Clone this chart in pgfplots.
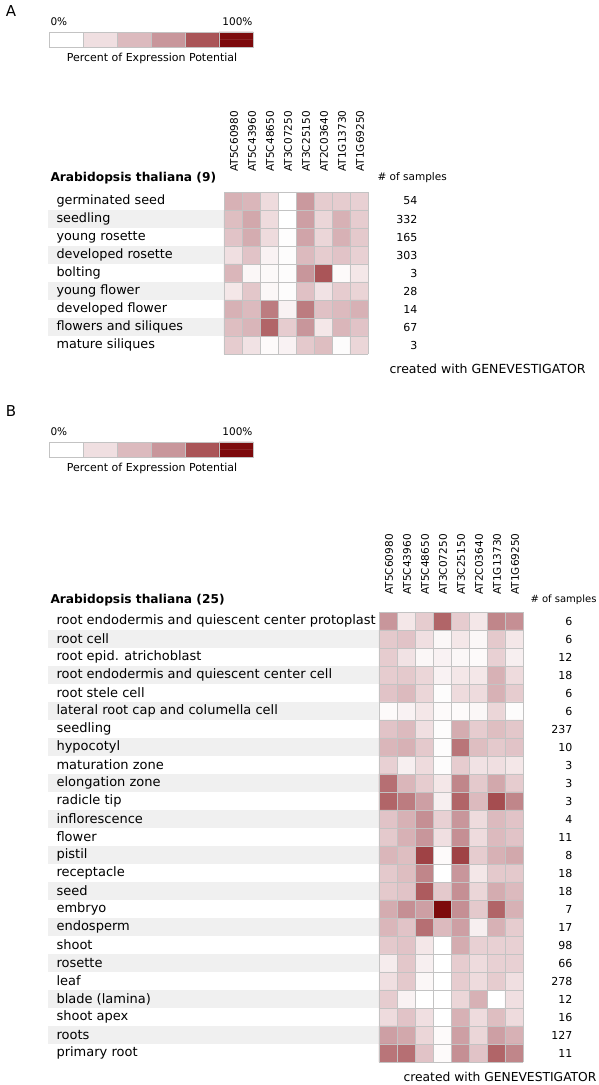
\documentclass[border=0pt]{standalone}
\usepackage{pgfplots}
\pgfplotsset{compat=1.18}
\usepackage{fontspec}
\setmainfont{DejaVu Sans}
\definecolor{stripe}{RGB}{240,240,240}
\definecolor{cellline}{RGB}{195,195,195}
\newcommand{\fs}[1]{\fontsize{#1}{#1}\selectfont}
\begin{document}
\begin{tikzpicture}
\begin{axis}[
  at={(0,0)}, anchor=south west,
  x=1pt, y=1pt, y dir=reverse,
  xmin=0, xmax=598, ymin=0, ymax=1085,
  hide axis, clip=false,
  colormap={gv}{rgb255=(255,255,255) rgb255=(240,223,225) rgb255=(220,186,190) rgb255=(200,150,155) rgb255=(170,85,88) rgb255=(125,10,12)},
  point meta min=0, point meta max=100,
]
\path (axis cs:0,0) rectangle (axis cs:598,1085);
% ---------------- Panel A ----------------
\node[anchor=center, font=\fs{15}] at (axis cs:11,11) {A};
% colour key
\addplot[matrix plot*, mesh/cols=6, point meta=explicit]
 table[row sep=\\, x expr={66+34*\thisrow{c}}, y expr={35.75+7.5*\thisrow{r}}, meta=v]{
 c r v\\ 0 0 0\\ 1 0 20\\ 2 0 40\\ 3 0 60\\ 4 0 80\\ 5 0 100\\
 0 1 0\\ 1 1 20\\ 2 1 40\\ 3 1 60\\ 4 1 80\\ 5 1 100\\
};
\pgfplotsinvokeforeach{1,...,5}{\draw[cellline, line width=0.5pt] (axis cs:{49+34*#1},32) -- (axis cs:{49+34*#1},47);}
\draw[cellline, line width=0.6pt] (axis cs:49,32) rectangle (axis cs:253,47);
\node[anchor=west, font=\fs{10.5}] at (axis cs:47,22) {0\%};
\node[anchor=east, font=\fs{10.5}] at (axis cs:256,22) {100\%};
\node[anchor=center, font=\fs{11}] at (axis cs:152,58) {Percent of Expression Potential};
% stripes
\pgfplotsinvokeforeach{1,3,5,7}{
 \fill[stripe] (axis cs:48,{192+18*#1}) rectangle (axis cs:224,{210+18*#1});
}
% heat map A
\addplot[matrix plot*, mesh/cols=8, point meta=explicit]
 table[row sep=\\, x expr={233+18*\thisrow{c}}, y expr={201+18*\thisrow{r}}, meta=v]{
 c r v\\
 0 0 45\\ 1 0 42\\ 2 0 22\\ 3 0 0\\ 4 0 58\\ 5 0 30\\ 6 0 30\\ 7 0 28\\
 0 1 38\\ 1 1 50\\ 2 1 22\\ 3 1 0\\ 4 1 55\\ 5 1 25\\ 6 1 45\\ 7 1 30\\
 0 2 35\\ 1 2 48\\ 2 2 22\\ 3 2 1\\ 4 2 52\\ 5 2 25\\ 6 2 45\\ 7 2 32\\
 0 3 20\\ 1 3 35\\ 2 3 8\\ 3 3 2\\ 4 3 40\\ 5 3 30\\ 6 3 35\\ 7 3 28\\
 0 4 42\\ 1 4 5\\ 2 4 4\\ 3 4 2\\ 4 4 60\\ 5 4 80\\ 6 4 3\\ 7 4 15\\
 0 5 15\\ 1 5 33\\ 2 5 5\\ 3 5 2\\ 4 5 36\\ 5 5 18\\ 6 5 30\\ 7 5 26\\
 0 6 45\\ 1 6 40\\ 2 6 68\\ 3 6 8\\ 4 6 68\\ 5 6 36\\ 6 6 40\\ 7 6 45\\
 0 7 38\\ 1 7 43\\ 2 7 75\\ 3 7 30\\ 4 7 60\\ 5 7 15\\ 6 7 42\\ 7 7 35\\
 0 8 30\\ 1 8 18\\ 2 8 3\\ 3 8 8\\ 4 8 32\\ 5 8 38\\ 6 8 2\\ 7 8 25\\
};
\pgfplotsinvokeforeach{0,...,8}{\draw[cellline, line width=0.6pt] (axis cs:{224+18*#1},192) -- (axis cs:{224+18*#1},354);}
\pgfplotsinvokeforeach{0,...,9}{\draw[cellline, line width=0.6pt] (axis cs:224,{192+18*#1}) -- (axis cs:368,{192+18*#1});}
\node[rotate=90, anchor=west, font=\fs{10.5}] at (axis cs:234,175) {AT5C60980};
\node[rotate=90, anchor=west, font=\fs{10.5}] at (axis cs:252,175) {AT5C43960};
\node[rotate=90, anchor=west, font=\fs{10.5}] at (axis cs:270,175) {AT5C48650};
\node[rotate=90, anchor=west, font=\fs{10.5}] at (axis cs:288,175) {AT3C07250};
\node[rotate=90, anchor=west, font=\fs{10.5}] at (axis cs:306,175) {AT3C25150};
\node[rotate=90, anchor=west, font=\fs{10.5}] at (axis cs:324,175) {AT2C03640};
\node[rotate=90, anchor=west, font=\fs{10.5}] at (axis cs:342,175) {AT1G13730};
\node[rotate=90, anchor=west, font=\fs{10.5}] at (axis cs:360,175) {AT1G69250};
\node[anchor=west, font=\fs{12.2}\bfseries] at (axis cs:47,178) {Arabidopsis thaliana (9)};
\node[anchor=west, font=\fs{10.5}] at (axis cs:374,178) {\# of samples};
\begin{scope}[every node/.style={anchor=west, font=\fs{12.8}}]
\node at (axis cs:53,201) {germinated seed};
\node at (axis cs:53,219) {seedling};
\node at (axis cs:53,237) {young rosette};
\node at (axis cs:53,255) {developed rosette};
\node at (axis cs:53,273) {bolting};
\node at (axis cs:53,291) {young flower};
\node at (axis cs:53,309) {developed flower};
\node at (axis cs:53,327) {flowers and siliques};
\node at (axis cs:53,345) {mature siliques};
\end{scope}
\begin{scope}[every node/.style={anchor=east, font=\fs{11}}]
\node at (axis cs:421,201) {54};
\node at (axis cs:421,219) {332};
\node at (axis cs:421,237) {165};
\node at (axis cs:421,255) {303};
\node at (axis cs:421,273) {3};
\node at (axis cs:421,291) {28};
\node at (axis cs:421,309) {14};
\node at (axis cs:421,327) {67};
\node at (axis cs:421,345) {3};
\end{scope}
\node[anchor=west, font=\fs{12.5}] at (axis cs:386,369) {created with GENEVESTIGATOR};
% ---------------- Panel B ----------------
\node[anchor=center, font=\fs{15}] at (axis cs:11,411) {B};
\addplot[matrix plot*, mesh/cols=6, point meta=explicit]
 table[row sep=\\, x expr={66+34*\thisrow{c}}, y expr={445.75+7.5*\thisrow{r}}, meta=v]{
 c r v\\ 0 0 0\\ 1 0 20\\ 2 0 40\\ 3 0 60\\ 4 0 80\\ 5 0 100\\
 0 1 0\\ 1 1 20\\ 2 1 40\\ 3 1 60\\ 4 1 80\\ 5 1 100\\
};
\pgfplotsinvokeforeach{1,...,5}{\draw[cellline, line width=0.5pt] (axis cs:{49+34*#1},442) -- (axis cs:{49+34*#1},457);}
\draw[cellline, line width=0.6pt] (axis cs:49,442) rectangle (axis cs:253,457);
\node[anchor=west, font=\fs{10.5}] at (axis cs:47,432) {0\%};
\node[anchor=east, font=\fs{10.5}] at (axis cs:256,432) {100\%};
\node[anchor=center, font=\fs{11}] at (axis cs:152,468) {Percent of Expression Potential};
\pgfplotsinvokeforeach{1,3,5,7,9,11,13,15,17,19,21,23}{
 \fill[stripe] (axis cs:48,{612+18*#1}) rectangle (axis cs:379,{630+18*#1});
}
\addplot[matrix plot*, mesh/cols=8, point meta=explicit]
 table[row sep=\\, x expr={388+18*\thisrow{c}}, y expr={621+18*\thisrow{r}}, meta=v]{
 c r v\\
 0 0 60\\ 1 0 15\\ 2 0 30\\ 3 0 75\\ 4 0 30\\ 5 0 15\\ 6 0 65\\ 7 0 62\\
 0 1 32\\ 1 1 35\\ 2 1 20\\ 3 1 5\\ 4 1 15\\ 5 1 5\\ 6 1 32\\ 7 1 15\\
 0 2 30\\ 1 2 18\\ 2 2 5\\ 3 2 8\\ 4 2 5\\ 5 2 3\\ 6 2 28\\ 7 2 10\\
 0 3 30\\ 1 3 32\\ 2 3 25\\ 3 3 8\\ 4 3 15\\ 5 3 15\\ 6 3 45\\ 7 3 22\\
 0 4 35\\ 1 4 40\\ 2 4 25\\ 3 4 2\\ 4 4 22\\ 5 4 22\\ 6 4 45\\ 7 4 30\\
 0 5 3\\ 1 5 8\\ 2 5 15\\ 3 5 3\\ 4 5 3\\ 5 5 5\\ 6 5 25\\ 7 5 2\\
 0 6 35\\ 1 6 40\\ 2 6 20\\ 3 6 2\\ 4 6 48\\ 5 6 30\\ 6 6 38\\ 7 6 33\\
 0 7 42\\ 1 7 45\\ 2 7 32\\ 3 7 2\\ 4 7 70\\ 5 7 38\\ 6 7 32\\ 7 7 35\\
 0 8 28\\ 1 8 10\\ 2 8 22\\ 3 8 2\\ 4 8 30\\ 5 8 18\\ 6 8 20\\ 7 8 15\\
 0 9 72\\ 1 9 42\\ 2 9 30\\ 3 9 15\\ 4 9 65\\ 5 9 32\\ 6 9 50\\ 7 9 30\\
 0 10 75\\ 1 10 68\\ 2 10 55\\ 3 10 10\\ 4 10 75\\ 5 10 40\\ 6 10 82\\ 7 10 65\\
 0 11 35\\ 1 11 45\\ 2 11 62\\ 3 11 28\\ 4 11 60\\ 5 11 22\\ 6 11 40\\ 7 11 35\\
 0 12 32\\ 1 12 45\\ 2 12 60\\ 3 12 20\\ 4 12 62\\ 5 12 22\\ 6 12 40\\ 7 12 35\\
 0 13 42\\ 1 13 38\\ 2 13 85\\ 3 13 3\\ 4 13 85\\ 5 13 30\\ 6 13 45\\ 7 13 50\\
 0 14 32\\ 1 14 38\\ 2 14 65\\ 3 14 0\\ 4 14 60\\ 5 14 15\\ 6 14 32\\ 7 14 32\\
 0 15 32\\ 1 15 35\\ 2 15 78\\ 3 15 32\\ 4 15 62\\ 5 15 25\\ 6 15 48\\ 7 15 40\\
 0 16 48\\ 1 16 62\\ 2 16 55\\ 3 16 100\\ 4 16 62\\ 5 16 32\\ 6 16 75\\ 7 16 45\\
 0 17 42\\ 1 17 35\\ 2 17 72\\ 3 17 40\\ 4 17 55\\ 5 17 10\\ 6 17 45\\ 7 17 30\\
 0 18 32\\ 1 18 35\\ 2 18 15\\ 3 18 0\\ 4 18 48\\ 5 18 28\\ 6 18 28\\ 7 18 28\\
 0 19 12\\ 1 19 33\\ 2 19 10\\ 3 19 0\\ 4 19 30\\ 5 19 22\\ 6 19 28\\ 7 19 28\\
 0 20 20\\ 1 20 32\\ 2 20 5\\ 3 20 0\\ 4 20 30\\ 5 20 22\\ 6 20 30\\ 7 20 20\\
 0 21 30\\ 1 21 8\\ 2 21 0\\ 3 21 0\\ 4 21 25\\ 5 21 45\\ 6 21 0\\ 7 21 20\\
 0 22 22\\ 1 22 35\\ 2 22 20\\ 3 22 0\\ 4 22 45\\ 5 22 22\\ 6 22 38\\ 7 22 22\\
 0 23 55\\ 1 23 50\\ 2 23 25\\ 3 23 3\\ 4 23 55\\ 5 23 25\\ 6 23 55\\ 7 23 45\\
 0 24 70\\ 1 24 72\\ 2 24 35\\ 3 24 3\\ 4 24 62\\ 5 24 35\\ 6 24 75\\ 7 24 65\\
};
\pgfplotsinvokeforeach{0,...,8}{\draw[cellline, line width=0.6pt] (axis cs:{379+18*#1},612) -- (axis cs:{379+18*#1},1062);}
\pgfplotsinvokeforeach{0,...,25}{\draw[cellline, line width=0.6pt] (axis cs:379,{612+18*#1}) -- (axis cs:523,{612+18*#1});}
\node[rotate=90, anchor=west, font=\fs{10.5}] at (axis cs:389,598) {AT5C60980};
\node[rotate=90, anchor=west, font=\fs{10.5}] at (axis cs:407,598) {AT5C43960};
\node[rotate=90, anchor=west, font=\fs{10.5}] at (axis cs:425,598) {AT5C48650};
\node[rotate=90, anchor=west, font=\fs{10.5}] at (axis cs:443,598) {AT3C07250};
\node[rotate=90, anchor=west, font=\fs{10.5}] at (axis cs:461,598) {AT3C25150};
\node[rotate=90, anchor=west, font=\fs{10.5}] at (axis cs:479,598) {AT2C03640};
\node[rotate=90, anchor=west, font=\fs{10.5}] at (axis cs:497,598) {AT1G13730};
\node[rotate=90, anchor=west, font=\fs{10.5}] at (axis cs:515,598) {AT1G69250};
\node[anchor=west, font=\fs{12.2}\bfseries] at (axis cs:47,600) {Arabidopsis thaliana (25)};
\node[anchor=west, font=\fs{10}] at (axis cs:527,600) {\# of samples};
\begin{scope}[every node/.style={anchor=west, font=\fs{13}}]
\node at (axis cs:53,621) {root endodermis and quiescent center protoplast};
\node at (axis cs:53,639) {root cell};
\node at (axis cs:53,657) {root epid. atrichoblast};
\node at (axis cs:53,675) {root endodermis and quiescent center cell};
\node at (axis cs:53,693) {root stele cell};
\node at (axis cs:53,711) {lateral root cap and columella cell};
\node at (axis cs:53,729) {seedling};
\node at (axis cs:53,747) {hypocotyl};
\node at (axis cs:53,765) {maturation zone};
\node at (axis cs:53,783) {elongation zone};
\node at (axis cs:53,801) {radicle tip};
\node at (axis cs:53,819) {inflorescence};
\node at (axis cs:53,837) {flower};
\node at (axis cs:53,855) {pistil};
\node at (axis cs:53,873) {receptacle};
\node at (axis cs:53,891) {seed};
\node at (axis cs:53,909) {embryo};
\node at (axis cs:53,927) {endosperm};
\node at (axis cs:53,945) {shoot};
\node at (axis cs:53,963) {rosette};
\node at (axis cs:53,981) {leaf};
\node at (axis cs:53,999) {blade (lamina)};
\node at (axis cs:53,1017) {shoot apex};
\node at (axis cs:53,1035) {roots};
\node at (axis cs:53,1053) {primary root};
\end{scope}
\begin{scope}[every node/.style={anchor=east, font=\fs{11}}]
\node at (axis cs:576,621) {6};
\node at (axis cs:576,639) {6};
\node at (axis cs:576,657) {12};
\node at (axis cs:576,675) {18};
\node at (axis cs:576,693) {6};
\node at (axis cs:576,711) {6};
\node at (axis cs:576,729) {237};
\node at (axis cs:576,747) {10};
\node at (axis cs:576,765) {3};
\node at (axis cs:576,783) {3};
\node at (axis cs:576,801) {3};
\node at (axis cs:576,819) {4};
\node at (axis cs:576,837) {11};
\node at (axis cs:576,855) {8};
\node at (axis cs:576,873) {18};
\node at (axis cs:576,891) {18};
\node at (axis cs:576,909) {7};
\node at (axis cs:576,927) {17};
\node at (axis cs:576,945) {98};
\node at (axis cs:576,963) {66};
\node at (axis cs:576,981) {278};
\node at (axis cs:576,999) {12};
\node at (axis cs:576,1017) {16};
\node at (axis cs:576,1035) {127};
\node at (axis cs:576,1053) {11};
\end{scope}
\node[anchor=west, font=\fs{12.3}] at (axis cs:400,1077) {created with GENEVESTIGATOR};
\end{axis}
\pgfresetboundingbox
\path[use as bounding box] (0,0) rectangle (598pt,1085pt);
\end{tikzpicture}
\end{document}
